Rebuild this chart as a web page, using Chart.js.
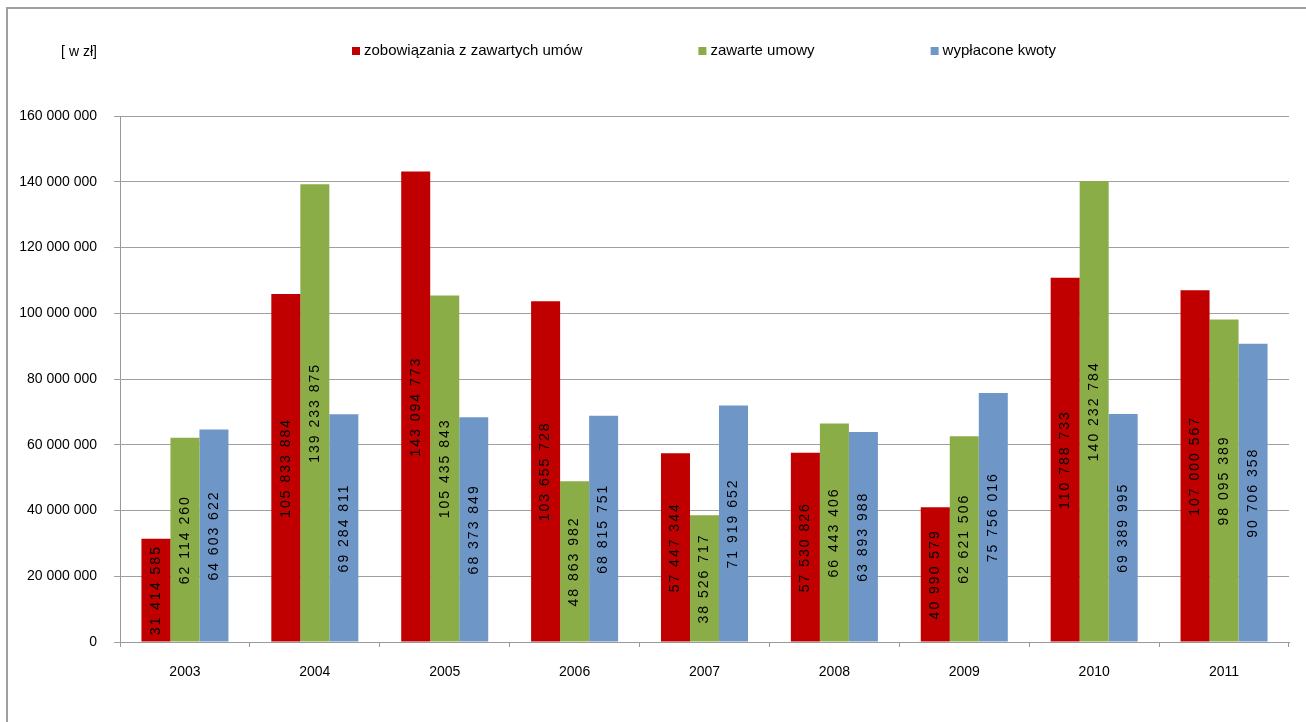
<!DOCTYPE html>
<html>
<head>
<meta charset="utf-8">
<script src="https://cdn.jsdelivr.net/npm/chart.js@4.4.1/dist/chart.umd.min.js"></script>
<style>
    html, body { margin: 0; padding: 0; background: #fff; overflow: hidden; }
    #page { position: relative; width: 1306px; height: 722px; }
    #frame { position: absolute; left: 6px; top: 7px; width: 1400px; height: 800px;
             border-left: 2px solid #a0a0a0; border-top: 2px solid #a0a0a0; }
    #graph_chart { position: absolute; left: 0; top: 0; }
</style>
</head>
<body>
<div id="page">
    <div id="frame"></div>
    <canvas id="graph_chart" width="1306" height="722"></canvas>
</div>
<script>
const years = ['2003', '2004', '2005', '2006', '2007', '2008', '2009', '2010', '2011'];
const zobowiazania = [31414585, 105833884, 143094773, 103655728, 57447344, 57530826, 40990579, 110788733, 107000567];
const zawarteUmowy = [62114260, 139233875, 105435843, 48863982, 38526717, 66443406, 62621506, 140232784, 98095389];
const wyplaconeKwoty = [64603622, 69284811, 68373849, 68815751, 71919652, 63893988, 75756016, 69389995, 90706358];
const seriesNames = ['zobowiązania z zawartych umów', 'zawarte umowy', 'wypłacone kwoty'];
const colors = ['#c00000', '#8bad47', '#6e97c8'];

const fmt = n => String(Math.round(n)).replace(/\B(?=(\d{3})+(?!\d))/g, ' ');
const FONT = '"Liberation Sans", Arial, sans-serif';

// rotated value labels inside the bars
const barLabels = {
    id: 'barLabels',
    afterDatasetsDraw(chart) {
        const ctx = chart.ctx;
        ctx.save();
        ctx.font = '14px ' + FONT;
        ctx.letterSpacing = '2px';
        ctx.fillStyle = '#000';
        ctx.textAlign = 'center';
        ctx.textBaseline = 'middle';
        chart.data.datasets.forEach((ds, i) => {
            chart.getDatasetMeta(i).data.forEach((bar, j) => {
                ctx.save();
                ctx.translate(bar.x, (bar.y + bar.base) / 2);
                ctx.rotate(-Math.PI / 2);
                ctx.fillText(fmt(ds.data[j]), 0, 0);
                ctx.restore();
            });
        });
        ctx.restore();
    }
};

// top legend and unit caption, spaced like the original
const topLegend = {
    id: 'topLegend',
    afterDraw(chart) {
        const ctx = chart.ctx;
        const gap = 116, box = 8, y = 51;
        ctx.save();
        ctx.font = '14px ' + FONT;
        ctx.textBaseline = 'middle';
        ctx.fillStyle = '#000';
        ctx.textAlign = 'center';
        ctx.fillText('[ w zł]', 79, 52);
        ctx.font = '15px ' + FONT;
        ctx.textAlign = 'left';
        const items = chart.data.datasets.map(ds => ({text: ds.label, color: ds.backgroundColor, w: box + 4 + ctx.measureText(ds.label).width}));
        const total = items.reduce((s, it) => s + it.w, 0) + gap * (items.length - 1);
        let x = 704 - total / 2;
        items.forEach(it => {
            ctx.fillStyle = it.color;
            ctx.fillRect(x, y - box / 2, box, box);
            ctx.fillStyle = '#000';
            ctx.fillText(it.text, x + box + 4, y);
            x += it.w + gap;
        });
        ctx.restore();
    }
};

new Chart(document.getElementById('graph_chart'), {
    type: 'bar',
    data: {
        labels: years,
        datasets: [zobowiazania, zawarteUmowy, wyplaconeKwoty].map((data, i) => ({
            label: seriesNames[i],
            data: data,
            backgroundColor: colors[i],
            borderWidth: 0,
            categoryPercentage: 0.67,
            barPercentage: 1.0
        }))
    },
    options: {
        responsive: false,
        animation: false,
        layout: {padding: {top: 116, right: 17, bottom: 0, left: 0}},
        plugins: {
            legend: {display: false},
            tooltip: {enabled: false}
        },
        scales: {
            x: {
                grid: {display: true, drawOnChartArea: false, drawTicks: true, tickLength: 5, color: '#999', offset: true},
                border: {color: '#999', width: 1},
                ticks: {color: '#000', padding: 17, font: {family: FONT, size: 14}},
                afterFit: scale => { scale.height = 80; }
            },
            y: {
                min: 0,
                max: 160000000,
                grid: {color: '#a0a0a0', tickLength: 6},
                border: {color: '#999', width: 1},
                ticks: {stepSize: 20000000, color: '#000', padding: 17, font: {family: FONT, size: 14}, callback: v => fmt(v)},
                afterFit: scale => { scale.width = 120; }
            }
        }
    },
    plugins: [barLabels, topLegend]
});
</script>
</body>
</html>
